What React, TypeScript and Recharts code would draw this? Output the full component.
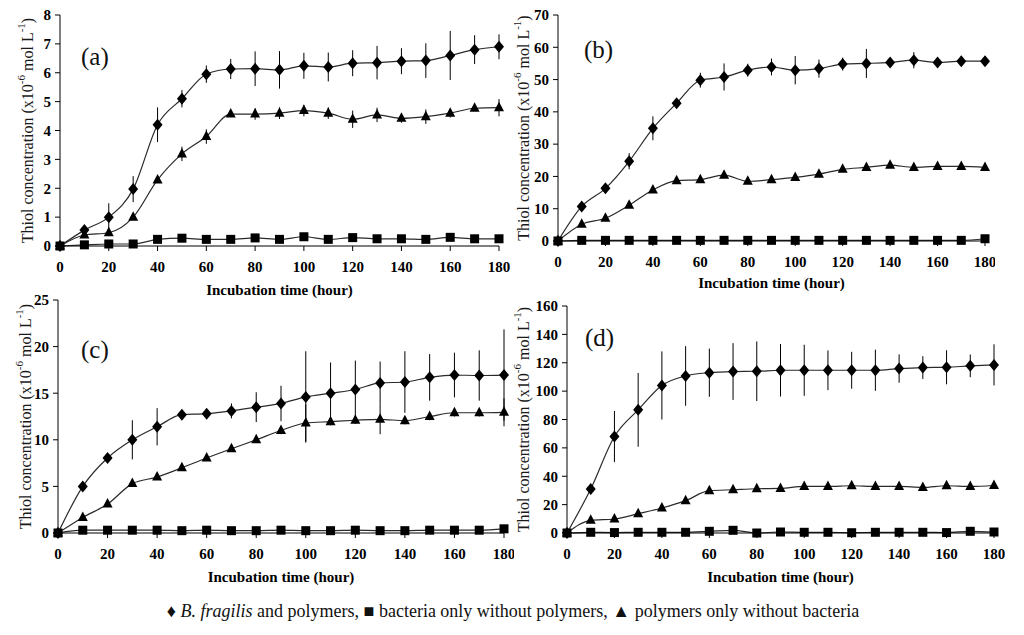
import { ComposedChart, ErrorBar, Line, XAxis, YAxis } from "recharts"

// incubation time (hour)
const hours = [0, 10, 20, 30, 40, 50, 60, 70, 80, 90, 100, 110, 120, 130, 140, 150, 160, 170, 180]
const xTicks = [0, 20, 40, 60, 80, 100, 120, 140, 160, 180]

// (a)
const aFragilis = [0, 0.55, 1.0, 1.97, 4.2, 5.1, 5.95, 6.13, 6.14, 6.1, 6.24, 6.2, 6.33, 6.35, 6.4, 6.42, 6.6, 6.8, 6.9]
const aFragilisErr = [0, 0.1, 0.48, 0.45, 0.6, 0.3, 0.3, 0.35, 0.6, 0.65, 0.45, 0.5, 0.45, 0.58, 0.45, 0.6, 0.85, 0.5, 0.43]
const aPolymer = [0, 0.38, 0.46, 1.0, 2.29, 3.19, 3.79, 4.57, 4.57, 4.6, 4.69, 4.6, 4.39, 4.54, 4.42, 4.48, 4.6, 4.77, 4.79]
const aPolymerErr = [0, 0.05, 0.1, 0.1, 0.1, 0.25, 0.25, 0.1, 0.2, 0.2, 0.2, 0.2, 0.3, 0.25, 0.15, 0.25, 0.15, 0.1, 0.3]
const aBacteria = [0, 0.04, 0.07, 0.07, 0.23, 0.27, 0.23, 0.23, 0.28, 0.23, 0.32, 0.23, 0.29, 0.25, 0.25, 0.23, 0.3, 0.25, 0.25]
const aTicks = [0, 1, 2, 3, 4, 5, 6, 7, 8]

// (b)
const bFragilis = [0, 10.7, 16.3, 24.7, 34.9, 42.7, 49.8, 50.8, 52.9, 53.9, 52.9, 53.4, 54.8, 55, 55.3, 56, 55.3, 55.7, 55.7]
const bFragilisErr = [0, 1, 1, 2.5, 3.7, 1.2, 2.3, 4.2, 2, 2.6, 4.4, 2.8, 2, 4.5, 1, 2.5, 1.5, 1, 1.5]
const bPolymer = [0, 5.2, 7.05, 11.1, 15.8, 18.7, 19.0, 20.4, 18.5, 19, 19.7, 20.7, 22.2, 22.8, 23.5, 22.8, 23.1, 23.1, 22.8]
const bPolymerErr = [0, 0.8, 0.8, 0.8, 0.8, 0.8, 0.8, 0.8, 0.8, 0.8, 0.8, 0.8, 0.8, 0.8, 0.8, 0.8, 0.8, 0.8, 0.8]
const bBacteria = [0, 0.2, 0.2, 0.2, 0.2, 0.2, 0.2, 0.2, 0.2, 0.2, 0.2, 0.2, 0.2, 0.2, 0.2, 0.2, 0.2, 0.2, 0.7]
const bTicks = [0, 10, 20, 30, 40, 50, 60, 70]

// (c)
const cFragilis = [0, 5.0, 8.05, 10.0, 11.4, 12.7, 12.8, 13.1, 13.5, 13.9, 14.6, 15.0, 15.4, 16.1, 16.2, 16.7, 16.95, 16.9, 16.95]
const cFragilisErr = [0, 0.3, 0.4, 2.1, 2.0, 0.5, 0.4, 0.8, 1.6, 1.9, 4.9, 3.3, 3.1, 2.3, 3.3, 2.5, 2.4, 2.7, 4.9]
const cPolymer = [0, 1.67, 3.1, 5.3, 6.0, 7.0, 8.05, 9.04, 10.0, 11.0, 11.8, 11.95, 12.1, 12.2, 12.05, 12.5, 12.9, 12.9, 12.95]
const cPolymerErr = [0, 0.2, 0.2, 0.3, 0.3, 0.3, 0.3, 0.3, 0.3, 0.4, 2.0, 0.4, 0.4, 1.6, 0.4, 0.4, 0.4, 0.4, 1.5]
const cBacteria = [0, 0.3, 0.3, 0.3, 0.3, 0.25, 0.3, 0.25, 0.25, 0.3, 0.25, 0.25, 0.3, 0.25, 0.25, 0.3, 0.3, 0.3, 0.45]
const cTicks = [0, 5, 10, 15, 20, 25]

// (d)
const dFragilis = [0, 31, 68, 86.8, 104, 110.7, 113, 113.8, 114, 114.7, 114.7, 114.7, 114.7, 114.7, 115.9, 116.6, 116.8, 117.8, 118.5]
const dFragilisErr = [0, 2, 18, 26, 24, 21, 17, 20, 21, 18.5, 18, 14, 13, 14.5, 10, 8, 12, 8, 14.5]
const dPolymer = [0, 8.9, 9.85, 13.6, 17.6, 22.8, 29.8, 30.5, 31.2, 31.4, 32.8, 32.8, 33.3, 32.8, 32.8, 32.1, 33.3, 32.8, 33.5]
const dPolymerErr = [0, 1, 1, 1, 1, 1, 1, 1, 1, 1, 1, 1, 1, 1, 1, 1, 1, 1, 1]
const dBacteria = [0, 0.5, 0.3, 0.5, 0.5, 0.5, 1.2, 1.9, 0, 0.7, 0.5, 0.5, 0.2, 0.5, 0.5, 0.5, 0.3, 1.2, 0.7]
const dTicks = [0, 20, 40, 60, 80, 100, 120, 140, 160]

const SERIF = "Liberation Serif"
const LINE = "#2a2a2a"

const renderDiamond = (p: any) => {
  if (p.cx == null || p.cy == null) return <g key={`dd-${p.index}`} />
  const { cx, cy } = p
  return <path key={`dd-${p.index}`} d={`M${cx},${cy - 6}L${cx + 5},${cy}L${cx},${cy + 6}L${cx - 5},${cy}Z`} fill="#000" />
}
const renderSquare = (p: any) => {
  if (p.cx == null || p.cy == null) return <g key={`sq-${p.index}`} />
  return <rect key={`sq-${p.index}`} x={p.cx - 4.5} y={p.cy - 4.5} width={9} height={9} fill="#000" />
}
const renderTriangle = (p: any) => {
  if (p.cx == null || p.cy == null) return <g key={`tr-${p.index}`} />
  const { cx, cy } = p
  return <path key={`tr-${p.index}`} d={`M${cx},${cy - 6}L${cx + 5},${cy + 3.5}L${cx - 5},${cy + 3.5}Z`} fill="#000" />
}

function YTitle({ viewBox, dx }: any) {
  const cx = viewBox.x + viewBox.width / 2 + dx
  const cy = viewBox.y + viewBox.height / 2
  return (
    <text
      x={cx}
      y={cy}
      transform={`rotate(-90 ${cx} ${cy})`}
      textAnchor="middle"
      dominantBaseline="central"
      style={{ fontFamily: SERIF }}
      fontSize={16}
      fill="#1a1a1a"
    >
      Thiol concentration (x10
      <tspan dy={-6} fontSize={11}>-6</tspan>
      <tspan dy={6}> mol L</tspan>
      <tspan dy={-6} fontSize={11}>-1</tspan>
      <tspan dy={6}>)</tspan>
    </text>
  )
}

function XTitle({ viewBox, dy }: any) {
  const cx = viewBox.x + viewBox.width / 2
  const cy = viewBox.y + dy
  return (
    <text
      x={cx}
      y={cy}
      textAnchor="middle"
      dominantBaseline="central"
      style={{ fontFamily: SERIF, fontWeight: "bold" }}
      fontSize={15}
      fill="#000"
    >
      Incubation time (hour)
    </text>
  )
}

type PanelProps = {
  tag: string
  left: number
  top: number
  width: number
  height: number
  yWidth: number
  marginRight: number
  titleDy: number
  labelDx: number
  yTicks: number[]
  fragilis: number[]
  fragilisErr: number[]
  polymer: number[]
  polymerErr: number[]
  bacteria: number[]
  tagLeft: number
  tagTop: number
}

function Panel(props: PanelProps) {
  const rows = hours.map((h, i) => ({
    hour: h,
    fragilis: props.fragilis[i],
    fragilisErr: props.fragilisErr[i],
    polymer: props.polymer[i],
    polymerErr: props.polymerErr[i],
    bacteria: props.bacteria[i],
  }))
  const yMax = props.yTicks[props.yTicks.length - 1]
  const tickStyle = { fontFamily: SERIF, fontWeight: "bold", fontSize: 15, fill: "#000" }
  return (
    <div style={{ position: "absolute", left: props.left, top: props.top }}>
      <ComposedChart
        width={props.width}
        height={props.height}
        data={rows}
        margin={{ top: 15, right: props.marginRight, left: 0, bottom: 0 }}
      >
        <XAxis
          dataKey="hour"
          type="number"
          domain={[0, 180]}
          ticks={xTicks}
          interval={0}
          height={60}
          tickSize={5}
          tickMargin={10}
          stroke="#000"
          tick={tickStyle}
          label={<XTitle dy={props.titleDy} />}
        />
        <YAxis
          type="number"
          domain={[0, yMax]}
          ticks={props.yTicks}
          interval={0}
          width={props.yWidth}
          tickSize={5}
          tickMargin={4}
          stroke="#000"
          tick={tickStyle}
          label={<YTitle dx={props.labelDx} />}
        />
        <Line
          type="monotone"
          dataKey="bacteria"
          stroke={LINE}
          strokeWidth={1.2}
          dot={renderSquare}
          activeDot={false}
          isAnimationActive={false}
        />
        <Line
          type="monotone"
          dataKey="polymer"
          stroke={LINE}
          strokeWidth={1.2}
          dot={renderTriangle}
          activeDot={false}
          isAnimationActive={false}
        >
          <ErrorBar dataKey="polymerErr" direction="y" width={0} stroke="#000" strokeWidth={1} isAnimationActive={false} />
        </Line>
        <Line
          type="monotone"
          dataKey="fragilis"
          stroke={LINE}
          strokeWidth={1.2}
          dot={renderDiamond}
          activeDot={false}
          isAnimationActive={false}
        >
          <ErrorBar dataKey="fragilisErr" direction="y" width={0} stroke="#000" strokeWidth={1} isAnimationActive={false} />
        </Line>
      </ComposedChart>
      <div
        style={{
          position: "absolute",
          left: props.tagLeft,
          top: props.tagTop,
          fontFamily: SERIF,
          fontSize: 25,
          lineHeight: "25px",
          color: "#111",
        }}
      >
        {props.tag}
      </div>
    </div>
  )
}

export default function App() {
  return (
    <div
      style={{
        position: "absolute",
        left: 0,
        top: 0,
        width: 1024,
        height: 635,
        background: "#fff",
        overflow: "hidden",
      }}
    >
      <Panel
        tag="(a)"
        left={0}
        top={0}
        width={510}
        height={306}
        yWidth={60}
        marginRight={11}
        titleDy={44}
        labelDx={-3}
        yTicks={aTicks}
        fragilis={aFragilis}
        fragilisErr={aFragilisErr}
        polymer={aPolymer}
        polymerErr={aPolymerErr}
        bacteria={aBacteria}
        tagLeft={81}
        tagTop={44}
      />
      <Panel
        tag="(b)"
        left={495}
        top={0}
        width={500}
        height={301}
        yWidth={63}
        marginRight={10}
        titleDy={42}
        labelDx={-3.5}
        yTicks={bTicks}
        fragilis={bFragilis}
        fragilisErr={bFragilisErr}
        polymer={bPolymer}
        polymerErr={bPolymerErr}
        bacteria={bBacteria}
        tagLeft={89}
        tagTop={37}
      />
      <Panel
        tag="(c)"
        left={0}
        top={285}
        width={514}
        height={308}
        yWidth={58}
        marginRight={10}
        titleDy={44}
        labelDx={-4}
        yTicks={cTicks}
        fragilis={cFragilis}
        fragilisErr={cFragilisErr}
        polymer={cPolymer}
        polymerErr={cPolymerErr}
        bacteria={cBacteria}
        tagLeft={81}
        tagTop={52}
      />
      <Panel
        tag="(d)"
        left={505}
        top={291}
        width={500}
        height={302}
        yWidth={62}
        marginRight={11}
        titleDy={44}
        labelDx={-13}
        yTicks={dTicks}
        fragilis={dFragilis}
        fragilisErr={dFragilisErr}
        polymer={dPolymer}
        polymerErr={dPolymerErr}
        bacteria={dBacteria}
        tagLeft={80}
        tagTop={34}
      />
      <div
        style={{
          position: "absolute",
          left: 0,
          width: 1026,
          top: 601,
          textAlign: "center",
          fontFamily: SERIF,
          fontSize: 18,
          color: "#111",
        }}
      >
        ♦ <i>B. fragilis</i> and polymers, ■ bacteria only without polymers, ▲ polymers only without bacteria
      </div>
    </div>
  )
}
